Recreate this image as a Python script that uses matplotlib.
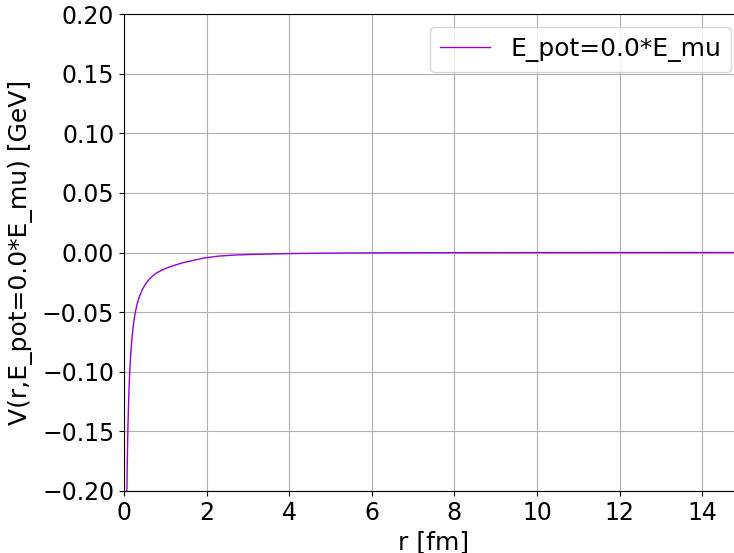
import matplotlib.pyplot as plt

# values
r = [0.065, 0.07, 0.08, 0.09, 0.1, 0.115, 0.13, 0.145, 0.165, 0.19, 0.22,
     0.25, 0.28, 0.32, 0.37, 0.44, 0.52, 0.6, 0.7, 0.8, 0.92, 1.05, 1.2,
     1.4, 1.69, 1.94, 2.3, 2.7, 3.2, 4.0, 5.0, 6.0, 7.0, 8.0, 10.0, 12.0, 15.0]
V = [-0.215, -0.2, -0.175, -0.155, -0.14, -0.121, -0.107, -0.096, -0.084,
     -0.073, -0.063, -0.055, -0.049, -0.043, -0.0373, -0.0313, -0.0265, -0.0229,
     -0.0195, -0.0169, -0.0147, -0.0128, -0.011, -0.0088, -0.0065, -0.0046,
     -0.003, -0.0021, -0.0015, -0.0009, -0.0005, -0.0003, -0.0002, -0.00013,
     -0.00006, -0.00003, -0.00001]

label = "E_pot=0.0*E_mu"

fig = plt.figure(figsize=(7.34, 5.53), dpi=100)
ax = fig.add_axes([124 / 734, 62 / 553, 619.5 / 734, 477 / 553])
ax.plot(r, V, color='darkviolet', lw=1, label=label)
ax.set_xlim(0, 15)
ax.set_ylim(-0.2, 0.2)
ax.set_xticks(range(0, 16, 2))
ax.tick_params(labelsize=17)
ax.set_xlabel("r [fm]", fontsize=18)
ax.set_ylabel("V(r," + label + ") [GeV]", fontsize=18)
ax.yaxis.set_label_coords(-0.147, 0.5)
ax.grid(True)
ax.legend(loc='upper right', fontsize=18)
fig.savefig("out.png", dpi=100)
